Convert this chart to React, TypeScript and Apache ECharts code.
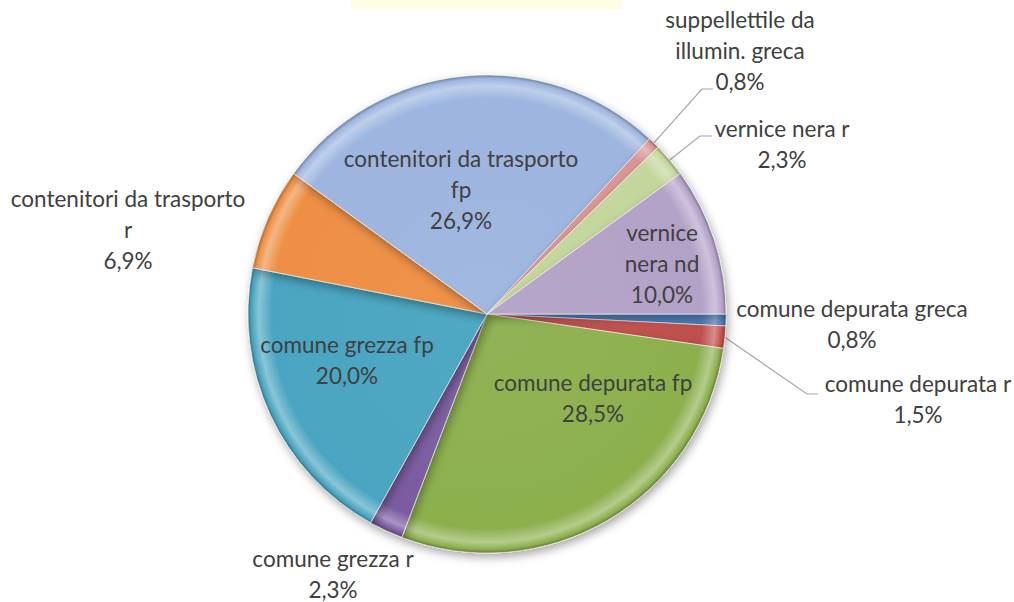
import React, { useEffect, useRef } from 'react';
import * as echarts from 'echarts';

// ---- data ----
const categories = [
  'comune depurata greca',
  'comune depurata r',
  'comune depurata fp',
  'comune grezza r',
  'comune grezza fp',
  'contenitori da trasporto r',
  'contenitori da trasporto fp',
  'suppellettile da illumin. greca',
  'vernice nera r',
  'vernice nera nd',
];
const shares = [0.8, 1.5, 28.5, 2.3, 20.0, 6.9, 26.9, 0.8, 2.3, 10.0];

// ---- styles / layout ----
const sliceColors = ['#4F81BD', '#C0504D', '#8DB04E', '#7B5CA1', '#4AA5C1', '#EE8F44', '#9DB5DF', '#D99694', '#C3D69B', '#B3A2C7'];
const wrapChars = [99, 99, 99, 99, 99, 24, 24, 16, 99, 7];
const labelInside = [false, false, true, false, true, false, true, false, false, true];
const labelHasLine = [false, true, false, false, false, false, false, true, true, false];
const labelCenter: number[][] = [
  [852, 324], [918, 399], [593, 398], [333, 574], [347, 360],
  [128, 229], [461, 189], [740, 50], [782, 144], [662, 263],
];
// leader line end: [bendX, endX, y] (only for labels with a line)
const lineEnd: (number[] | null)[] = [
  null, [807, 818, 394], null, null, null, null, null, [702, 713, 89], [700, 712, 136], null,
];
const CX = 487;
const CY = 314;
const R = 239;

function shade(hex: string, f: number) {
  const n = parseInt(hex.slice(1), 16);
  let r = (n >> 16) & 255, g = (n >> 8) & 255, b = n & 255;
  if (f >= 0) {
    r = r + (255 - r) * f; g = g + (255 - g) * f; b = b + (255 - b) * f;
  } else {
    r = r * (1 + f); g = g * (1 + f); b = b * (1 + f);
  }
  return `rgb(${Math.round(r)},${Math.round(g)},${Math.round(b)})`;
}

function wrap(text: string, max: number) {
  const words = text.split(' ');
  const lines: string[] = [];
  let cur = '';
  for (const w of words) {
    const t = cur ? cur + ' ' + w : w;
    if (t.length > max && cur) { lines.push(cur); cur = w; } else cur = t;
  }
  if (cur) lines.push(cur);
  return lines.join('\n');
}

export default function App() {
  const ref = useRef<HTMLDivElement>(null);
  useEffect(() => {
    if (!ref.current) return;
    const chart = echarts.init(ref.current, undefined, { renderer: 'svg' });
    const data = categories.map((name, i) => ({
      name,
      value: shares[i],
      itemStyle: {
        color: {
          type: 'radial', x: CX, y: CY, r: R, global: true,
          colorStops: [
            { offset: 0, color: shade(sliceColors[i], 0.04) },
            { offset: 0.9, color: sliceColors[i] },
            { offset: 0.955, color: shade(sliceColors[i], 0.35) },
            { offset: 0.985, color: sliceColors[i] },
            { offset: 1, color: shade(sliceColors[i], -0.3) },
          ],
        },
      },
      label: { position: labelInside[i] ? 'inside' : 'outside' },
      labelLine: { show: labelHasLine[i] },
    }));
    chart.setOption({
      animation: false,
      backgroundColor: '#ffffff',
      graphic: [
        { type: 'rect', shape: { x: 351, y: 0, width: 271, height: 9 }, style: { fill: '#FFFCE3' } },
      ],
      series: [
        {
          type: 'pie',
          center: [CX, CY],
          radius: R,
          startAngle: 0,
          clockwise: true,
          avoidLabelOverlap: false,
          data,
          itemStyle: {
            borderColor: 'rgba(255,255,255,0.55)',
            borderWidth: 1,
            shadowBlur: 10,
            shadowColor: 'rgba(0,0,0,0.35)',
            shadowOffsetX: 2,
            shadowOffsetY: 4,
          },
          label: {
            fontFamily: 'Lato',
            fontSize: 22.5,
            lineHeight: 31,
            color: '#404040',
            align: 'center',
            formatter: (p: any) =>
              wrap(p.name, wrapChars[p.dataIndex]) + '\n' + p.value.toFixed(1).replace('.', ',') + '%',
          },
          labelLine: {
            length: 10,
            length2: 14,
            lineStyle: { color: '#A6A6A6', width: 1.2 },
          },
          labelLayout: (params: any) => {
            const i = params.dataIndex;
            const [x, y] = labelCenter[i];
            const out: any = { x, y, align: 'center', verticalAlign: 'middle' };
            const le = lineEnd[i];
            const pts = params.labelLinePoints;
            if (le && pts && pts[0]) {
              out.labelLinePoints = [pts[0], [le[0], le[2]], [le[1], le[2]]];
            }
            return out;
          },
          emphasis: { disabled: true },
        },
      ],
    });
    return () => chart.dispose();
  }, []);
  return (
    <div
      ref={ref}
      style={{ position: 'absolute', left: 0, top: 0, width: 1014, height: 602 }}
    />
  );
}
